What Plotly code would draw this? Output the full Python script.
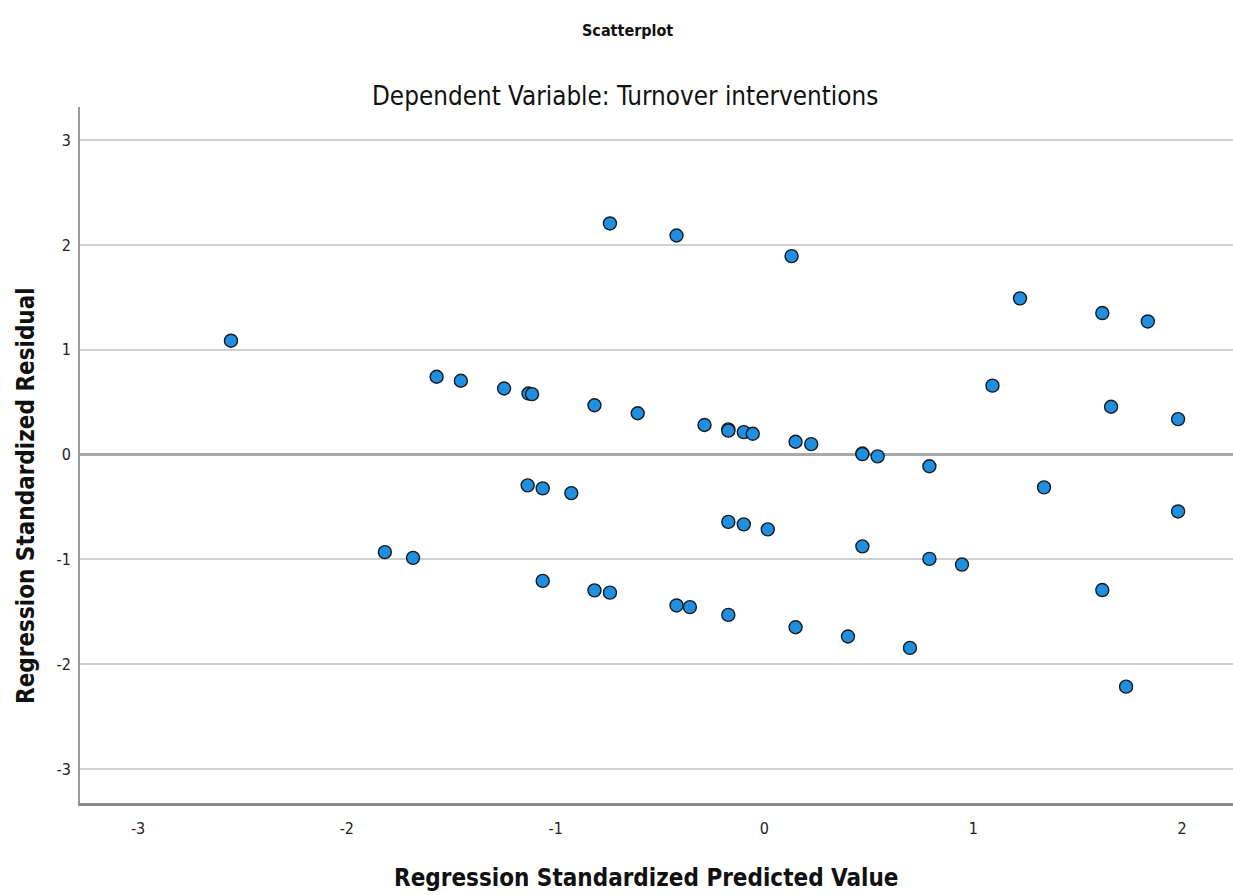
import plotly.graph_objects as go

# Regression standardized predicted values (x) and standardized residuals (y)
pred = [-2.555, -1.570, -1.454, -1.247, -1.130, -1.113, -0.814, -0.607, -0.287, -0.173,
        -0.173, -0.099, -0.056, 0.149, 0.224, 0.469, 0.469, 0.542, -1.134, -1.062,
        -0.925, -0.173, -0.099, 0.016, 0.469, -1.818, -1.683, -1.062, -0.814, -0.740,
        -0.421, -0.357, -0.173, 0.149, 0.400, -0.740, -0.421, 0.130, 1.224, 1.618,
        1.836, 1.092, 1.660, 1.981, 0.790, 1.339, 1.981, 0.790, 0.946, 1.618,
        0.697, 1.732]
resid = [1.086, 0.742, 0.704, 0.630, 0.582, 0.576, 0.470, 0.394, 0.282, 0.240,
         0.228, 0.214, 0.198, 0.122, 0.099, 0.010, 0.004, -0.018, -0.294, -0.323,
         -0.368, -0.643, -0.666, -0.714, -0.876, -0.931, -0.986, -1.206, -1.296, -1.318,
         -1.440, -1.456, -1.530, -1.648, -1.736, 2.205, 2.090, 1.893, 1.490, 1.350,
         1.270, 0.657, 0.456, 0.338, -0.112, -0.313, -0.543, -0.996, -1.050, -1.293,
         -1.845, -2.215]

x_ticks = [-3, -2, -1, 0, 1, 2]
y_ticks = [-3, -2, -1, 0, 1, 2, 3]

main_title = "Scatterplot"
sub_title = "Dependent Variable: Turnover interventions"
x_title = "Regression Standardized Predicted Value"
y_title = "Regression Standardized Residual"

narrow = "Liberation Sans Narrow, Arial Narrow, DejaVu Sans Condensed, sans-serif"

fig = go.Figure()
fig.add_trace(go.Scatter(
    x=pred, y=resid, mode="markers",
    marker=dict(symbol="circle", size=13, color="#1f8fe2",
                line=dict(color="#1a1a1a", width=1.4)),
    hoverinfo="x+y", showlegend=False,
))

fig.update_layout(
    width=1233, height=895,
    margin=dict(l=80, r=0, t=107, b=92),
    paper_bgcolor="white", plot_bgcolor="white",
    xaxis=dict(
        range=[-3.278, 2.244], tickvals=x_ticks, ticktext=[str(v) for v in x_ticks],
        showgrid=False, zeroline=False,
        showline=True, linecolor="#8a8a8a", linewidth=3,
        ticks="", tickfont=dict(family=narrow, size=16, color="#222"),
        ticklabelstandoff=9,
    ),
    yaxis=dict(
        range=[-3.325, 3.316], tickvals=y_ticks, ticktext=[str(v) for v in y_ticks],
        showgrid=True, gridcolor="#cfcfcf", gridwidth=2,
        zeroline=True, zerolinecolor="#a8a8a8", zerolinewidth=2.5,
        showline=True, linecolor="#9a9a9a", linewidth=2,
        ticks="", tickfont=dict(family=narrow, size=16, color="#222"),
        ticklabelstandoff=4,
    ),
    annotations=[
        dict(text="<b>" + main_title + "</b>", showarrow=False,
             font=dict(family=narrow, size=16, color="#111")),
        dict(text=sub_title, showarrow=False,
             font=dict(family=narrow, size=25.8, color="#111")),
        dict(text="<b>" + x_title + "</b>", showarrow=False,
             font=dict(family=narrow, size=24, color="#111")),
        dict(text="<b>" + y_title + "</b>", showarrow=False,
             textangle=-90, font=dict(family=narrow, size=24, color="#111")),
    ],
)

# Position annotations in paper coordinates converted from pixel targets
W, H = 1233, 895
L, R, T, B = 80, 0, 107, 92
pw, ph = W - L - R, H - T - B

def px_to_paper(px, py):
    return (px - L) / pw, (H - B - py) / ph

anns = list(fig.layout.annotations)
targets = [(627, 30), (625, 96), (646, 878), (26, 496)]
new = []
for a, (px, py) in zip(anns, targets):
    xp, yp = px_to_paper(px, py)
    a.update(x=xp, y=yp, xref="paper", yref="paper", xanchor="center", yanchor="middle")
    new.append(a)
fig.layout.annotations = new

fig.write_html("out.html")
